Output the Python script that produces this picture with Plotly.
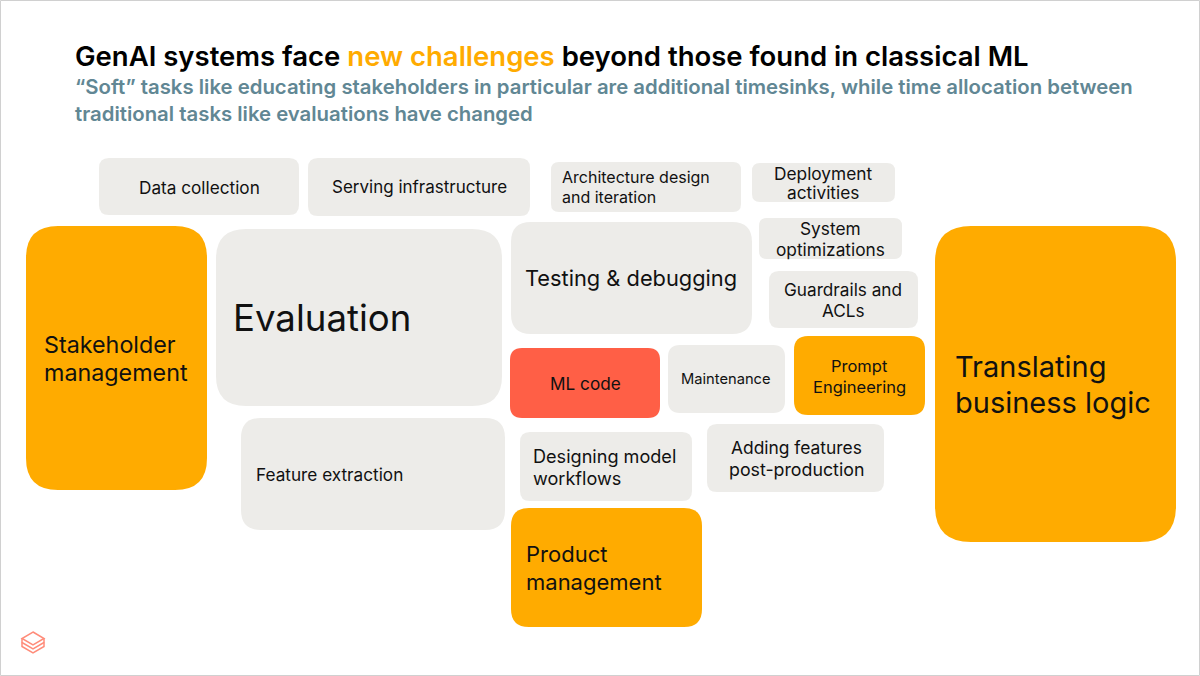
import plotly.graph_objects as go

GRAY = "#EDECE9"
ORANGE = "#FFAB00"
RED = "#FF5F46"
FONT = "Inter"

# boxes: left, right, top, bottom, corner radius, colour
box_names = ["Data collection", "Serving infrastructure", "Architecture", "Deployment", "System",
             "Guardrails", "Testing", "Stakeholder", "Evaluation", "ML code", "Maintenance",
             "Prompt", "Translating", "Feature extraction", "Designing", "Adding", "Product"]
box_left = [99, 308, 551, 752, 759, 769, 511, 26, 216, 510, 668, 794, 935, 241, 520, 707, 511]
box_right = [299, 530, 741, 895, 902, 918, 752, 207, 502, 660, 785, 925, 1176, 505, 692, 884, 702]
box_top = [158, 158, 162, 163, 218, 271, 222, 226, 229, 348, 345, 336, 226, 418, 432, 424, 508]
box_bottom = [215, 216, 212, 202, 259, 328, 334, 490, 406, 418, 413, 415, 542, 530, 501, 492, 627]
box_radius = [10, 10, 8, 8, 8, 10, 20, 32, 30, 12, 12, 14, 36, 20, 10, 10, 18]
box_color = [GRAY, GRAY, GRAY, GRAY, GRAY, GRAY, GRAY, ORANGE, GRAY, RED, GRAY,
             ORANGE, ORANGE, GRAY, GRAY, GRAY, ORANGE]

# text lines: string, x, y (middle), size, anchor
label_text = ["Data collection", "Serving infrastructure", "Architecture design", "and iteration",
              "Deployment", "activities", "System", "optimizations", "Guardrails and", "ACLs",
              "Testing & debugging", "Stakeholder", "management", "Evaluation", "ML code",
              "Maintenance", "Prompt", "Engineering", "Translating", "business logic",
              "Feature extraction", "Designing model", "workflows", "Adding features",
              "post-production", "Product", "management"]
label_x = [199, 419, 560, 560, 823, 823, 830, 830, 843, 843, 523, 42, 42, 231, 585, 726,
           859, 859, 953, 953, 254, 531, 531, 796, 796, 524, 524]
label_y = [187, 187, 177, 197, 173, 192, 228, 249, 289, 310, 278, 344, 372, 318, 383, 379,
           366, 387, 366, 402, 474, 456, 478, 447, 469, 554, 582]
label_size = [17.2, 17, 16, 16, 17.3, 17.3, 17.3, 17.3, 17.2, 17.2, 21.8, 23.3, 23.3, 36.6, 17.2, 14.7,
              16.5, 16.5, 29, 29, 17.2, 18.1, 18.1, 17.4, 17.8, 22, 22]
label_anchor = ["center", "center", "left", "left", "center", "center", "center", "center",
                "center", "center", "left", "left", "left", "left", "center", "center",
                "center", "center", "left", "left", "left", "left", "left", "center", "center",
                "left", "left"]

title = ("GenAI systems face <span style='color:#FFAB00'>new challenges</span> "
         "beyond those found in classical ML")
subtitle_lines = ["“Soft” tasks like educating stakeholders in particular are additional timesinks, "
                  "while time allocation between",
                  "traditional tasks like evaluations have changed"]


def rounded(x0, x1, y0, y1, r):
    return (f"M {x0+r} {y0} L {x1-r} {y0} Q {x1} {y0} {x1} {y0+r} L {x1} {y1-r} Q {x1} {y1} {x1-r} {y1} "
            f"L {x0+r} {y1} Q {x0} {y1} {x0} {y1-r} L {x0} {y0+r} Q {x0} {y0} {x0+r} {y0} Z")


fig = go.Figure()

shapes = []
for i in range(len(box_names)):
    shapes.append(dict(type="path", path=rounded(box_left[i], box_right[i], box_top[i], box_bottom[i], box_radius[i]),
                       fillcolor=box_color[i], line=dict(width=0), layer="below"))

# slide border
shapes.append(dict(type="rect", x0=0.5, x1=1199.5, y0=0.5, y1=675.5, line=dict(color="#D0D0D0", width=1)))

# logo
logo_color = "#FF8C7A"
shapes.append(dict(type="path", path="M 33 632 L 44 638.5 L 33 645 L 22 638.5 Z", line=dict(color=logo_color, width=1.5)))
shapes.append(dict(type="path", path="M 22 638.5 L 22 642.5 L 33 649 L 44 642.5 L 44 638.5", line=dict(color=logo_color, width=1.5)))
shapes.append(dict(type="path", path="M 22 642.5 L 22 646.5 L 33 653 L 44 646.5 L 44 642.5", line=dict(color=logo_color, width=1.5)))

annotations = []
for i in range(len(label_text)):
    annotations.append(dict(x=label_x[i], y=label_y[i], text=label_text[i], xanchor=label_anchor[i], yanchor="middle",
                            showarrow=False, font=dict(family=FONT, size=label_size[i], color="#111111")))

annotations.append(dict(x=73, y=56, text=title, xanchor="left", yanchor="middle", showarrow=False,
                        font=dict(family=FONT, size=27.5, color="#000000", weight=600)))
annotations.append(dict(x=73, y=86, text=subtitle_lines[0], xanchor="left", yanchor="middle", showarrow=False,
                        font=dict(family=FONT, size=20.35, color="#618794", weight=600)))
annotations.append(dict(x=73, y=113, text=subtitle_lines[1], xanchor="left", yanchor="middle", showarrow=False,
                        font=dict(family=FONT, size=20.35, color="#618794", weight=600)))

fig.update_layout(width=1200, height=676, margin=dict(l=0, r=0, t=0, b=0),
                  paper_bgcolor="white", plot_bgcolor="white", showlegend=False,
                  shapes=shapes, annotations=annotations,
                  xaxis=dict(range=[0, 1200], visible=False, fixedrange=True),
                  yaxis=dict(range=[676, 0], visible=False, fixedrange=True))

# page default margin would push the slide 8px off
fig.write_html("out.html", config=dict(displayModeBar=False),
               post_script="document.body.style.margin='0';document.body.style.overflow='hidden';")
